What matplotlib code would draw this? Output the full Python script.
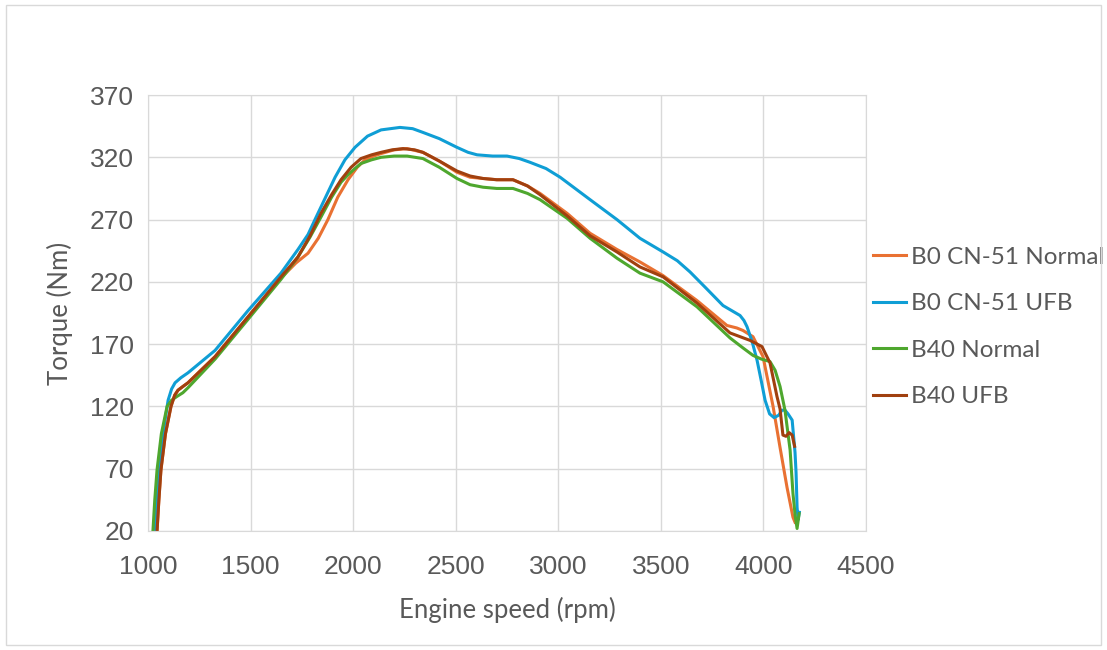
import matplotlib
matplotlib.use("Agg")
import matplotlib.pyplot as plt
from matplotlib.patches import Rectangle

# B0 CN-51 Normal
b0_normal_rpm = [1044, 1053, 1063, 1085, 1112, 1130, 1146, 1170, 1195, 1327, 1488, 1648, 1720, 1780,
                 1830, 1877, 1925, 1975, 2020, 2058, 2100, 2136, 2200, 2263, 2340, 2420, 2506, 2570,
                 2633, 2700, 2779, 2850, 2911, 3043, 3155, 3286, 3398, 3511, 3676, 3822, 3870, 3900,
                 3949, 3998, 4047, 4081, 4115, 4144, 4154]
b0_normal_tq = [20, 45, 69, 98, 120, 129, 133, 136, 139, 160, 192, 223, 235, 243,
                255, 270, 288, 302, 312, 318, 321, 323, 326, 327, 324, 317, 308, 304,
                303, 302, 302, 297, 291, 275, 259, 246, 236, 225, 205, 185, 183, 181,
                176, 160, 120, 87, 55, 31, 27]

# B0 CN-51 UFB
b0_ufb_rpm = [1034, 1044, 1054, 1075, 1098, 1115, 1132, 1160, 1195, 1327, 1488, 1648, 1731, 1780,
              1814, 1860, 1912, 1960, 2009, 2070, 2136, 2228, 2290, 2340, 2420, 2506, 2560, 2604,
              2680, 2750, 2810, 2862, 2940, 3009, 3155, 3286, 3398, 3511, 3580, 3642, 3720, 3803,
              3886, 3905, 3920, 3945, 3969, 3990, 4008, 4030, 4052, 4075, 4090, 4105, 4120, 4140,
              4154, 4159, 4164, 4169, 4175]
b0_ufb_tq = [20, 50, 69, 100, 125, 134, 139, 143, 147, 165, 197, 227, 246, 258,
             270, 286, 304, 318, 328, 337, 342, 344, 343, 340, 335, 328, 324, 322,
             321, 321, 319, 316, 311, 304, 286, 270, 255, 244, 237, 228, 215, 201,
             193, 189, 184, 172, 157, 140, 125, 114, 111, 113, 117, 117, 114, 109,
             83, 67, 39, 29, 35]

# B40 Normal
b40_normal_rpm = [1024, 1033, 1044, 1065, 1093, 1115, 1141, 1170, 1195, 1327, 1488, 1648, 1731, 1790,
                  1843, 1895, 1941, 1975, 2009, 2038, 2090, 2136, 2200, 2263, 2340, 2420, 2506, 2570,
                  2633, 2700, 2779, 2850, 2911, 3043, 3155, 3286, 3398, 3511, 3676, 3837, 3900, 3949,
                  3990, 4032, 4057, 4081, 4105, 4130, 4144, 4155, 4164, 4174]
b40_normal_tq = [20, 45, 69, 98, 120, 125, 128, 131, 135, 158, 190, 222, 240, 256,
                 272, 288, 300, 306, 311, 315, 318, 320, 321, 321, 319, 312, 303, 298,
                 296, 295, 295, 291, 286, 271, 255, 239, 227, 220, 200, 175, 167, 161,
                 158, 156, 149, 136, 117, 85, 50, 32, 22, 34]

# B40 UFB
b40_ufb_rpm = [1044, 1053, 1063, 1085, 1112, 1130, 1146, 1170, 1195, 1327, 1488, 1648, 1731, 1790,
               1843, 1895, 1941, 1990, 2038, 2090, 2136, 2190, 2243, 2300, 2340, 2420, 2506, 2570,
               2633, 2700, 2779, 2850, 2911, 3043, 3155, 3286, 3398, 3511, 3676, 3837, 3935, 3993,
               4032, 4066, 4081, 4095, 4110, 4125, 4140, 4152]
b40_ufb_tq = [20, 45, 69, 98, 120, 129, 133, 136, 139, 160, 192, 224, 240, 257,
              275, 290, 302, 312, 319, 322, 324, 326, 327, 326, 324, 317, 309, 305,
              303, 302, 302, 297, 290, 273, 257, 244, 232, 224, 203, 179, 173, 168,
              155, 128, 118, 97, 96, 99, 97, 88]

labels = ["B0 CN-51 Normal", "B0 CN-51 UFB", "B40 Normal", "B40 UFB"]
colors = ["#E97132", "#0F9ED5", "#4EA72E", "#A0400F"]

x_ticks = [1000, 1500, 2000, 2500, 3000, 3500, 4000, 4500]
y_ticks = [20, 70, 120, 170, 220, 270, 320, 370]

fig = plt.figure(figsize=(11.07, 6.5), dpi=100)
fig.patches.append(Rectangle((0.005, 0.008), 0.99, 0.984, transform=fig.transFigure,
                             fill=False, edgecolor="#d9d9d9", linewidth=1))
ax = fig.add_axes([0.1337, 0.1831, 0.6486, 0.6707])

series = [(b0_normal_rpm, b0_normal_tq), (b0_ufb_rpm, b0_ufb_tq),
          (b40_normal_rpm, b40_normal_tq), (b40_ufb_rpm, b40_ufb_tq)]
for (x, y), lab, c in zip(series, labels, colors):
    ax.plot(x, y, color=c, lw=2.2, label=lab, solid_joinstyle="round")

ax.set_xlim(1000, 4500)
ax.set_ylim(20, 370)
ax.set_xticks(x_ticks)
ax.set_yticks(y_ticks)
ax.grid(True, color="#d9d9d9", lw=1)
ax.set_axisbelow(True)
for s in ax.spines.values():
    s.set_color("#d9d9d9")
ax.tick_params(length=0, labelsize=19, labelcolor="#595959")
ax.tick_params(axis="x", pad=17)
ax.tick_params(axis="y", pad=10)
for t in ax.get_xticklabels() + ax.get_yticklabels():
    t.set_fontfamily("Liberation Sans")

ax.set_xlabel("Engine speed (rpm)", fontsize=18.5, color="#595959", family="Lato", labelpad=13)
ax.set_ylabel("Torque (Nm)", fontsize=18.5, color="#595959", family="Lato", labelpad=12)

ax.legend(loc="center left", bbox_to_anchor=(1.0, 0.468), frameon=False,
          prop={"family": "Lato", "size": 17.5}, labelcolor="#595959",
          handlelength=1.35, handletextpad=0.2, labelspacing=1.05,
          borderaxespad=0.0, borderpad=0.3)

fig.savefig("out.png", dpi=100)
